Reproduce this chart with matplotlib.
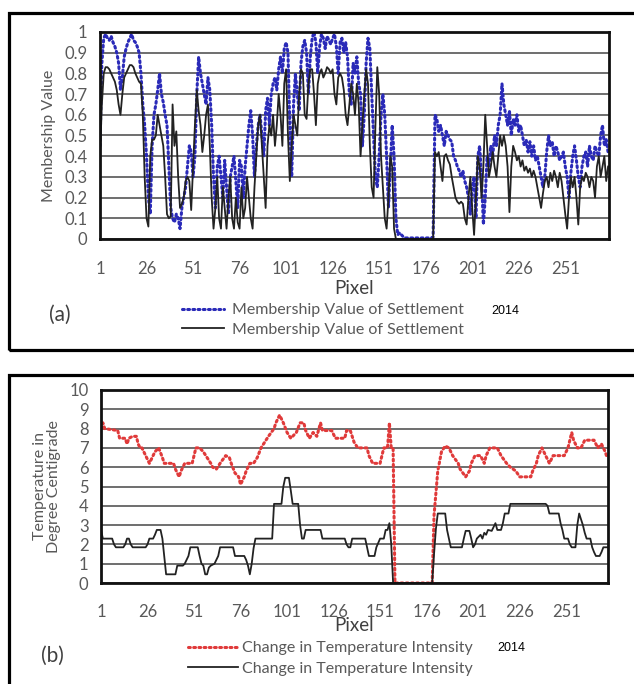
import numpy as np
import matplotlib
matplotlib.use('Agg')
import matplotlib.pyplot as plt
from matplotlib.patches import Rectangle

plt.rcParams['font.family'] = ['Lato', 'DejaVu Sans']

#### panel (a): membership value of settlement, one value per pixel (1..274)
settle_2014 = [0.45, 0.85, 0.97, 0.99, 0.97, 0.96, 0.98, 0.95, 0.93, 0.90,
               0.85, 0.72, 0.78, 0.88, 0.92, 0.95, 0.97, 0.99, 0.96, 0.95,
               0.93, 0.90, 0.80, 0.65, 0.55, 0.40, 0.20, 0.12, 0.45, 0.60,
               0.65, 0.72, 0.80, 0.70, 0.66, 0.60, 0.55, 0.35, 0.15, 0.10,
               0.08, 0.12, 0.10, 0.05, 0.15, 0.20, 0.25, 0.35, 0.45, 0.42,
               0.30, 0.40, 0.70, 0.88, 0.80, 0.75, 0.70, 0.65, 0.78, 0.72,
               0.55, 0.30, 0.15, 0.35, 0.40, 0.30, 0.20, 0.38, 0.25, 0.12,
               0.30, 0.35, 0.40, 0.28, 0.15, 0.38, 0.35, 0.20, 0.35, 0.45,
               0.55, 0.62, 0.50, 0.30, 0.45, 0.55, 0.60, 0.50, 0.40, 0.62,
               0.68, 0.55, 0.70, 0.75, 0.78, 0.72, 0.82, 0.88, 0.80, 0.92,
               0.95, 0.90, 0.55, 0.30, 0.65, 0.80, 0.70, 0.62, 0.85, 0.93,
               0.96, 0.90, 0.70, 0.88, 0.97, 1.00, 0.95, 0.80, 0.93, 0.99,
               0.97, 0.92, 0.98, 0.96, 0.94, 0.97, 0.99, 0.93, 0.80, 0.95,
               0.97, 0.90, 0.95, 0.88, 0.70, 0.65, 0.85, 0.80, 0.88, 0.75,
               0.70, 0.45, 0.60, 0.85, 0.97, 0.92, 0.70, 0.50, 0.30, 0.25,
               0.40, 0.60, 0.70, 0.60, 0.40, 0.15, 0.35, 0.55, 0.40, 0.10,
               0.02, 0.03, 0.02, 0.01, 0.005, 0.005, 0.005, 0.005, 0.005, 0.005,
               0.005, 0.005, 0.005, 0.005, 0.005, 0.005, 0.005, 0.005, 0.005, 0.01,
               0.60, 0.58, 0.52, 0.55, 0.50, 0.45, 0.52, 0.50, 0.48, 0.47,
               0.40, 0.38, 0.35, 0.33, 0.30, 0.33, 0.28, 0.25, 0.20, 0.12,
               0.25, 0.30, 0.10, 0.40, 0.45, 0.30, 0.07, 0.20, 0.40, 0.35,
               0.45, 0.40, 0.50, 0.45, 0.55, 0.60, 0.75, 0.65, 0.60, 0.55,
               0.62, 0.50, 0.58, 0.55, 0.60, 0.52, 0.55, 0.50, 0.45, 0.48,
               0.42, 0.47, 0.40, 0.45, 0.38, 0.40, 0.35, 0.30, 0.25, 0.30,
               0.42, 0.50, 0.45, 0.47, 0.40, 0.45, 0.42, 0.38, 0.40, 0.42,
               0.35, 0.30, 0.20, 0.32, 0.40, 0.45, 0.38, 0.30, 0.25, 0.35,
               0.40, 0.42, 0.35, 0.45, 0.40, 0.38, 0.45, 0.42, 0.40, 0.50,
               0.55, 0.45, 0.48, 0.42]
settle_old = [0.40, 0.65, 0.80, 0.83, 0.83, 0.82, 0.80, 0.78, 0.76, 0.72,
              0.65, 0.60, 0.70, 0.78, 0.80, 0.82, 0.84, 0.84, 0.83, 0.80,
              0.78, 0.76, 0.75, 0.60, 0.30, 0.10, 0.06, 0.40, 0.48, 0.48,
              0.50, 0.60, 0.55, 0.50, 0.45, 0.30, 0.12, 0.10, 0.11, 0.65,
              0.45, 0.52, 0.30, 0.15, 0.17, 0.20, 0.28, 0.30, 0.28, 0.14,
              0.35, 0.55, 0.72, 0.62, 0.55, 0.42, 0.50, 0.60, 0.65, 0.45,
              0.20, 0.05, 0.15, 0.30, 0.10, 0.05, 0.25, 0.15, 0.05, 0.20,
              0.30, 0.10, 0.05, 0.20, 0.08, 0.05, 0.25, 0.10, 0.15, 0.30,
              0.20, 0.10, 0.05, 0.25, 0.40, 0.55, 0.60, 0.45, 0.30, 0.15,
              0.45, 0.55, 0.50, 0.60, 0.45, 0.55, 0.70, 0.60, 0.45, 0.75,
              0.82, 0.50, 0.28, 0.45, 0.60, 0.55, 0.50, 0.70, 0.82, 0.80,
              0.60, 0.58, 0.75, 0.82, 0.82, 0.70, 0.55, 0.75, 0.80, 0.82,
              0.78, 0.80, 0.83, 0.82, 0.80, 0.82, 0.70, 0.65, 0.78, 0.80,
              0.78, 0.72, 0.60, 0.55, 0.65, 0.75, 0.70, 0.60, 0.75, 0.65,
              0.40, 0.55, 0.70, 0.82, 0.75, 0.45, 0.25, 0.20, 0.55, 0.83,
              0.70, 0.40, 0.25, 0.10, 0.05, 0.20, 0.40, 0.35, 0.05, 0.00,
              0.00, 0.00, 0.00, 0.00, 0.00, 0.00, 0.00, 0.00, 0.00, 0.00,
              0.00, 0.00, 0.00, 0.00, 0.00, 0.00, 0.00, 0.00, 0.00, 0.00,
              0.42, 0.40, 0.42, 0.35, 0.28, 0.40, 0.41, 0.38, 0.36, 0.30,
              0.25, 0.20, 0.18, 0.17, 0.18, 0.17, 0.10, 0.07, 0.20, 0.30,
              0.15, 0.02, 0.20, 0.40, 0.35, 0.20, 0.35, 0.60, 0.45, 0.30,
              0.35, 0.42, 0.35, 0.30, 0.40, 0.50, 0.45, 0.50, 0.45, 0.35,
              0.13, 0.35, 0.45, 0.42, 0.38, 0.40, 0.35, 0.38, 0.33, 0.35,
              0.32, 0.34, 0.30, 0.33, 0.30, 0.25, 0.20, 0.15, 0.22, 0.28,
              0.30, 0.25, 0.32, 0.28, 0.33, 0.30, 0.25, 0.32, 0.28, 0.20,
              0.12, 0.05, 0.20, 0.30, 0.25, 0.30, 0.20, 0.07, 0.25, 0.30,
              0.28, 0.32, 0.30, 0.25, 0.30, 0.28, 0.20, 0.35, 0.40, 0.30,
              0.35, 0.40, 0.28, 0.35]
pix_a = np.arange(1, len(settle_2014) + 1)

#### panel (b): change in temperature intensity, points where the steps change
temp_2014_x = [1, 2, 3, 10, 11, 14, 15, 16, 18, 20, 21, 22, 23, 25, 27, 30, 32, 34, 35, 37,
               40, 41, 43, 44, 46, 50, 51, 52, 54, 56, 58, 60, 61, 63, 65, 68, 70, 71, 73, 75,
               76, 78, 79, 81, 83, 85, 87, 89, 91, 94, 95, 97, 99, 101, 103, 106, 108, 110, 111, 113,
               115, 117, 119, 120, 125, 127, 132, 133, 135, 137, 139, 144, 145, 147, 151, 152, 153, 155, 156, 157,
               158, 159, 179, 180, 182, 184, 186, 188, 190, 193, 194, 197, 199, 200, 202, 205, 207, 208, 210, 214,
               216, 219, 221, 224, 226, 232, 233, 235, 236, 238, 240, 242, 244, 246, 250, 252, 254, 255, 257, 259,
               261, 266, 268, 270, 272, 273]
temp_2014_y = [8.0, 8.3, 8.0, 7.9, 7.5, 7.5, 7.2, 7.5, 7.6, 7.6, 7.2, 7.0, 7.0, 6.6, 6.2, 6.8, 7.0, 6.5, 6.2, 6.2,
               6.2, 5.9, 5.5, 5.8, 6.2, 6.2, 6.6, 7.0, 7.0, 6.8, 6.5, 6.2, 6.0, 5.9, 6.2, 6.6, 6.5, 6.2, 5.7, 5.5,
               5.1, 5.5, 5.8, 6.2, 6.2, 6.5, 7.0, 7.3, 7.6, 8.0, 8.3, 8.7, 8.3, 7.8, 7.5, 7.8, 8.3, 8.3, 7.9, 7.5,
               7.8, 7.6, 8.3, 7.9, 7.9, 7.5, 7.5, 7.9, 7.9, 7.3, 7.0, 7.0, 6.6, 6.2, 6.2, 6.6, 7.0, 7.0, 8.3, 7.0,
               7.0, 0.0, 0.0, 3.5, 5.8, 6.8, 7.1, 7.0, 6.6, 6.2, 5.9, 5.5, 5.8, 6.2, 6.6, 6.6, 6.2, 6.6, 7.0, 7.0,
               6.6, 6.2, 6.0, 5.8, 5.5, 5.5, 5.8, 6.2, 6.6, 7.0, 6.6, 6.2, 6.6, 6.6, 6.6, 7.0, 7.8, 7.4, 7.0, 7.0,
               7.4, 7.4, 7.0, 7.2, 6.8, 6.5]
temp_old_x = [1, 2, 7, 8, 9, 13, 14, 15, 16, 17, 18, 25, 26, 27, 29, 30, 31, 33, 34, 35,
              36, 41, 42, 45, 46, 47, 48, 49, 53, 54, 55, 56, 57, 58, 59, 60, 62, 63, 64, 65,
              72, 73, 78, 79, 80, 81, 82, 83, 84, 93, 94, 98, 99, 100, 102, 103, 104, 107, 108, 109,
              110, 111, 119, 120, 132, 133, 134, 135, 136, 143, 144, 145, 148, 149, 151, 153, 154, 155, 156, 157,
              158, 179, 180, 181, 182, 186, 187, 188, 189, 195, 196, 197, 199, 200, 201, 202, 203, 205, 206, 207,
              208, 209, 211, 212, 213, 214, 216, 217, 218, 220, 221, 240, 241, 242, 247, 248, 249, 250, 252, 253,
              254, 256, 257, 258, 259, 260, 261, 262, 264, 265, 266, 267, 269, 270, 271, 273]
temp_old_y = [2.75, 2.3, 2.3, 2.0, 1.85, 1.85, 2.0, 2.3, 2.3, 2.0, 1.85, 1.85, 2.0, 2.3, 2.3, 2.5, 2.75, 2.75, 2.3, 1.4,
              0.45, 0.45, 0.9, 0.9, 1.0, 1.2, 1.4, 1.85, 1.85, 1.4, 1.0, 0.9, 0.45, 0.45, 0.8, 0.9, 1.0, 1.2, 1.4, 1.85,
              1.85, 1.4, 1.4, 1.2, 0.9, 0.45, 1.0, 1.8, 2.3, 2.3, 4.1, 4.1, 5.0, 5.45, 5.45, 4.8, 4.1, 4.1, 3.0, 2.3,
              2.3, 2.75, 2.75, 2.3, 2.3, 2.0, 1.85, 1.85, 2.3, 2.3, 1.85, 1.4, 1.4, 1.85, 2.3, 2.3, 2.75, 2.75, 3.1, 2.0,
              0.0, 0.0, 1.5, 2.8, 3.6, 3.6, 2.75, 2.3, 1.85, 1.85, 2.3, 2.7, 2.7, 2.3, 1.85, 2.0, 2.3, 2.5, 2.3, 2.6,
              2.5, 2.75, 2.7, 2.9, 3.1, 2.75, 2.75, 3.1, 3.6, 3.6, 4.1, 4.1, 4.0, 3.6, 3.6, 3.1, 2.75, 2.3, 2.3, 2.0,
              1.85, 1.85, 3.0, 3.6, 3.3, 3.0, 2.6, 2.3, 2.3, 1.85, 1.6, 1.4, 1.4, 1.6, 1.85, 1.85]

xtick_vals = [1, 26, 51, 76, 101, 126, 151, 176, 201, 226, 251]
lab_a = 'Membership Value of Settlement'
lab_b = 'Change in Temperature Intensity'

W, H = 634, 684
txt_col = '#595959'
dot = (0, (0.6, 1.1))

fig = plt.figure(figsize=(W / 100, H / 100), dpi=100, facecolor='w')

# outer frames (run past the right / bottom edges like the screenshot)
fig.patches.append(Rectangle((9 / W, 1 - 350 / H), 1.0, 337 / H, transform=fig.transFigure,
                             fill=False, ec='black', lw=2.3))
fig.patches.append(Rectangle((9 / W, -0.1), 1.0, 1 - 375 / H + 0.1, transform=fig.transFigure,
                             fill=False, ec='black', lw=2.3))

ax1 = fig.add_axes([100 / W, 1 - 239 / H, 509 / W, 207 / H])
ax2 = fig.add_axes([101 / W, 1 - 583 / H, 507 / W, 193 / H])

l1, = ax1.plot(pix_a, settle_2014, color='#2a2ab8', lw=2.2, ls=dot, dash_capstyle='round')
l2, = ax1.plot(pix_a, settle_old, color='#222222', lw=1.3)
ax1.set_xlim(1, 274.5)
ax1.set_ylim(0, 1)
ax1.set_yticks(np.arange(0, 1.01, 0.1))
ax1.set_yticklabels(['0'] + ['%.1f' % v for v in np.arange(0.1, 0.95, 0.1)] + ['1'])
ax1.set_ylabel('Membership Value', fontsize=11.5, color=txt_col, labelpad=6)

r1, = ax2.plot(temp_2014_x, temp_2014_y, color='#e03a3a', lw=2.2, ls=dot, dash_capstyle='round')
r2, = ax2.plot(temp_old_x, temp_old_y, color='#222222', lw=1.3)
ax2.set_xlim(1, 273.5)
ax2.set_ylim(0, 10)
ax2.set_yticks(range(0, 11))
ax2.set_ylabel('Temperature in\nDegree Centigrade', fontsize=11.5, color=txt_col,
               labelpad=6, linespacing=1.0)

for ax in (ax1, ax2):
    ax.set_xticks(xtick_vals)
    ax.grid(axis='y', color='#555555', lw=1.2)
    ax.set_axisbelow(True)
    ax.tick_params(length=0, labelsize=12, labelcolor=txt_col)
    ax.tick_params(axis='y', pad=9)
    for s in ax.spines.values():
        s.set_linewidth(2)
        s.set_color('#111111')

ax1.tick_params(axis='x', pad=16)
ax2.tick_params(axis='x', pad=15)
ax1.set_xlabel('Pixel', fontsize=13.5, color='#404040', labelpad=2)
ax2.set_xlabel('Pixel', fontsize=13.5, color='#404040', labelpad=-2)

fig.legend([l1, l2], [lab_a, lab_a], loc='upper left', bbox_to_anchor=(182 / W, 1 - 303 / H),
           frameon=False, fontsize=11.5, handlelength=2.6, handletextpad=0.5,
           labelspacing=0.35, borderpad=0, borderaxespad=0, labelcolor=txt_col)
fig.legend([r1, r2], [lab_b, lab_b], loc='upper left', bbox_to_anchor=(188 / W, 1 - 641 / H),
           frameon=False, fontsize=11.5, handlelength=3.1, handletextpad=0.3,
           labelspacing=0.4, borderpad=0, borderaxespad=0, labelcolor=txt_col)

fig.text(491 / W, 1 - 311 / H, '2014', family='Liberation Sans', fontsize=9, va='center')
fig.text(497 / W, 1 - 648 / H, '2014', family='Liberation Sans', fontsize=9, va='center')
fig.text(60 / W, 1 - 315 / H, '(a)', ha='center', va='center', fontsize=15, color='#404040')
fig.text(52 / W, 1 - 656 / H, '(b)', ha='center', va='center', fontsize=15, color='#404040')

plt.savefig('out.png', dpi=100)
